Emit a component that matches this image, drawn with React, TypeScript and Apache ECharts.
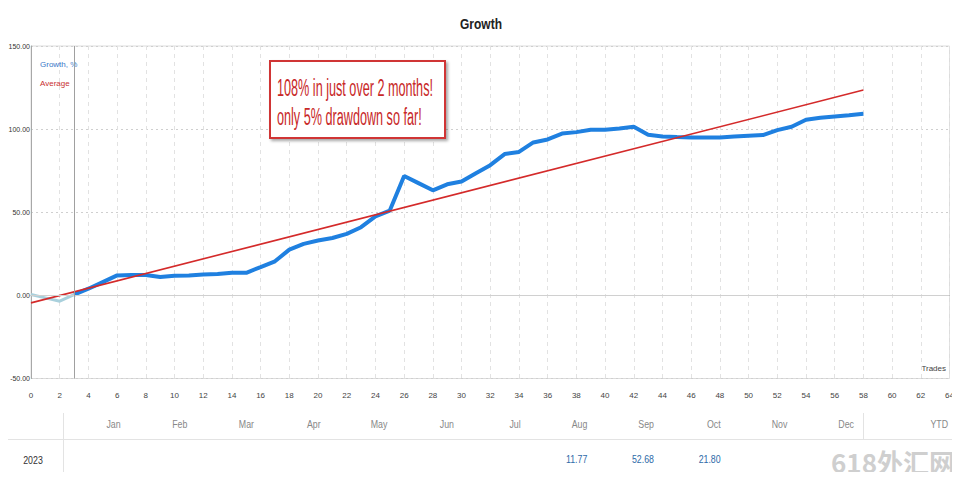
import React, { useEffect, useRef } from "react";
import * as echarts from "echarts";

const preStart: [number, number][] = [[0, 0.5], [1, -1.5], [2, -3.5], [3, 0.5]];
const growth: [number, number][] = [
  [3, 0.5], [4, 4], [5, 8], [6, 12], [7, 12.3], [8, 12.3], [9, 11], [10, 11.8],
  [11, 12], [12, 12.6], [13, 12.8], [14, 13.6], [15, 13.6], [16, 17], [17, 20.5],
  [18, 27.5], [19, 31], [20, 33], [21, 34.5], [22, 37], [23, 41], [24, 47.5],
  [25, 51], [26, 71.8], [27, 67.5], [28, 63.2], [29, 66.8], [30, 68.5], [31, 73.5],
  [32, 78.3], [33, 85], [34, 86.3], [35, 92], [36, 93.8], [37, 97.3], [38, 98.2],
  [39, 99.6], [40, 99.6], [41, 100.4], [42, 101.4], [43, 96.6], [44, 95.6],
  [45, 95.2], [46, 95], [47, 95], [48, 95], [49, 95.5], [50, 96], [51, 96.4],
  [52, 99.4], [53, 101.4], [54, 105.6], [55, 106.8], [56, 107.6], [57, 108.3],
  [58, 109.2],
];
const average: [number, number][] = [[0, -4.5], [58, 123.5]];
const startTrade = 3;

const months = ["Jan", "Feb", "Mar", "Apr", "May", "Jun", "Jul", "Aug", "Sep", "Oct", "Nov", "Dec"];
const yearLabel = "2023";
const yearValues: (string | null)[] = [null, null, null, null, null, null, null, "11.77", "52.68", "21.80", null, null];
const ytdLabel = "YTD";

const narrow = "'Liberation Sans', sans-serif";

export default function App() {
  const ref = useRef<HTMLDivElement>(null);
  useEffect(() => {
    if (!ref.current) return;
    const chart = echarts.init(ref.current, null, { renderer: "svg" });

    const tableLeft = 63;
    const tableRight = 863;
    const colW = (tableRight - tableLeft) / 12;
    const graphics: any[] = [];

    graphics.push({
      type: "text", x: 481, y: 24, scaleX: 0.8,
      style: { text: "Growth", fill: "#222", font: "bold 15px 'Liberation Sans', sans-serif", align: "center", verticalAlign: "middle" },
    });
    graphics.push({
      type: "rect", shape: { x: 270, y: 61, width: 175, height: 77 },
      style: { fill: "#fff", stroke: "#d03535", lineWidth: 2, shadowBlur: 3, shadowOffsetX: 2, shadowOffsetY: 2, shadowColor: "rgba(0,0,0,0.35)" },
      z: 100,
    });
    graphics.push({
      type: "text", x: 277, y: 88, scaleX: 0.55, z: 101,
      style: { text: "108% in just over 2 months!", fill: "#c82828", font: "23px 'Liberation Sans', sans-serif", verticalAlign: "middle" },
    });
    graphics.push({
      type: "text", x: 277, y: 117, scaleX: 0.55, z: 101,
      style: { text: "only 5% drawdown so far!", fill: "#c82828", font: "23px 'Liberation Sans', sans-serif", verticalAlign: "middle" },
    });
    graphics.push({
      type: "text", x: 946, y: 368,
      style: { text: "Trades", fill: "#444", font: "8px " + narrow, align: "right", verticalAlign: "middle" },
    });

    // table
    graphics.push({ type: "line", shape: { x1: 7, y1: 439.5, x2: 960, y2: 439.5 }, style: { stroke: "#e3e3e3", lineWidth: 1 } });
    graphics.push({ type: "line", shape: { x1: 7, y1: 477.5, x2: 960, y2: 477.5 }, style: { stroke: "#e3e3e3", lineWidth: 1 } });
    graphics.push({ type: "line", shape: { x1: tableLeft + 0.5, y1: 413, x2: tableLeft + 0.5, y2: 477 }, style: { stroke: "#e3e3e3", lineWidth: 1 } });
    graphics.push({ type: "line", shape: { x1: tableRight + 0.5, y1: 413, x2: tableRight + 0.5, y2: 439 }, style: { stroke: "#e3e3e3", lineWidth: 1 } });
    months.forEach((m, i) => {
      const right = tableLeft + (i + 1) * colW - 9;
      graphics.push({
        type: "text", x: right, y: 424, scaleX: 0.8,
        style: { text: m, fill: "#888", font: "11px 'Liberation Sans', sans-serif", align: "right", verticalAlign: "middle" },
      });
      const v = yearValues[i];
      if (v) {
        graphics.push({
          type: "text", x: right, y: 459, scaleX: 0.8,
          style: { text: v, fill: "#2e6aa8", font: "11px 'Liberation Sans', sans-serif", align: "right", verticalAlign: "middle" },
        });
      }
    });
    graphics.push({
      type: "text", x: 948, y: 424, scaleX: 0.8,
      style: { text: ytdLabel, fill: "#888", font: "11px 'Liberation Sans', sans-serif", align: "right", verticalAlign: "middle" },
    });
    graphics.push({
      type: "text", x: 33, y: 460, scaleX: 0.8,
      style: { text: yearLabel, fill: "#333", font: "11px 'Liberation Sans', sans-serif", align: "center", verticalAlign: "middle" },
    });
    graphics.push({
      type: "text", x: 955, y: 461,
      style: { text: "618外汇网", fill: "#cfcfcf", font: "bold 26px 'Noto Sans CJK SC', sans-serif", align: "right", verticalAlign: "middle" },
    });

    chart.setOption({
      animation: false,
      grid: { left: 31, right: 10.5, top: 46, bottom: 101.5, show: true, borderColor: "#dcdcdc", borderWidth: 1, containLabel: false },
      legend: {
        orient: "vertical", left: 30, top: 55, itemGap: 11, itemWidth: 0, itemHeight: 0, icon: "none",
        textStyle: { fontSize: 8, fontFamily: narrow },
        data: [
          { name: "Growth, %", textStyle: { color: "#3a78c8" } },
          { name: "Average", textStyle: { color: "#c83030" } },
        ],
        selectedMode: false,
      },
      xAxis: {
        type: "value", min: 0, max: 64, interval: 2,
        axisLine: { show: true, lineStyle: { color: "#a8a8a8" } },
        axisTick: { show: false },
        axisLabel: { color: "#444", fontSize: 8, fontFamily: narrow, margin: 13 },
        splitLine: { show: true, lineStyle: { color: "#e2e2e2", type: [4, 4] } },
      },
      yAxis: {
        type: "value", min: -50, max: 150, interval: 50,
        axisLine: { show: true, lineStyle: { color: "#a8a8a8" } },
        axisTick: { show: false },
        axisLabel: { color: "#333", fontSize: 7, fontFamily: narrow, margin: 1, formatter: (v: number) => v.toFixed(2) },
        splitLine: { show: true, lineStyle: { color: "#cfcfcf", type: [2, 3] } },
      },
      series: [
        {
          name: "pre", type: "line", data: preStart, symbol: "none",
          lineStyle: { color: "#a9d0dc", width: 3 }, z: 2,
          markLine: {
            silent: true, symbol: "none", label: { show: false },
            data: [
              { yAxis: 0, lineStyle: { color: "#d0d0d0", width: 1, type: "solid" } },
              { xAxis: startTrade, lineStyle: { color: "#a0a0a0", width: 1, type: "solid" } },
            ],
          },
        },
        {
          name: "Growth, %", type: "line", data: growth, symbol: "none",
          lineStyle: { color: "#1f80e0", width: 4 }, itemStyle: { color: "#1f80e0" }, z: 3,
        },
        {
          name: "Average", type: "line", data: average, symbol: "none",
          lineStyle: { color: "#d42a2a", width: 1.6 }, itemStyle: { color: "#d42a2a" }, z: 4,
        },
      ],
      graphic: graphics,
    });
    return () => chart.dispose();
  }, []);
  return <div ref={ref} style={{ width: 960, height: 480, margin: -8 }} />;
}
